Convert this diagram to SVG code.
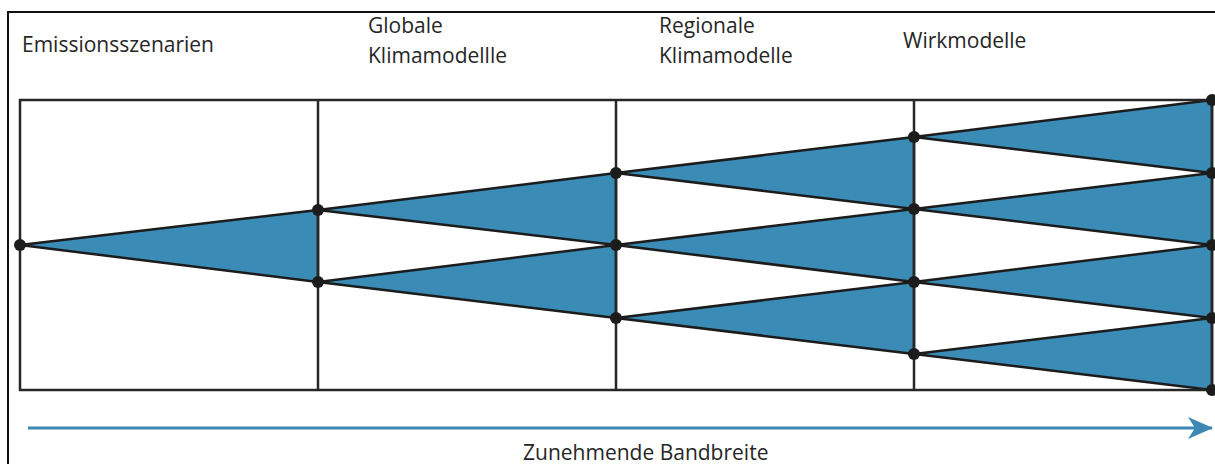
<svg xmlns="http://www.w3.org/2000/svg" width="1215" height="464" viewBox="0 0 1215 464">
<style>
.lbl{font-family:"Open Sans","Noto Sans",sans-serif;font-size:21px;fill:#262626}
.tri{fill:#3a8bb6;stroke:#1c1c1c;stroke-width:2.5;stroke-linejoin:round}
.grid{fill:none;stroke:#262626;stroke-width:2.5}
.dot{fill:#1c1c1c}
</style>
<defs>
<marker id="ah" markerWidth="26" markerHeight="24" refX="24" refY="11" orient="auto" markerUnits="userSpaceOnUse">
<path d="M0,0 L25,11 L0,22 L7,11 Z" fill="#3d88b3"/>
</marker>
</defs>
<rect width="1215" height="464" fill="#ffffff"/>
<rect x="8" y="12" width="1220" height="470" fill="none" stroke="#111" stroke-width="2"/>
<g id="labels">
<text class="lbl" x="22" y="52">Emissionsszenarien</text>
<text class="lbl" x="368" y="33">Globale</text>
<text class="lbl" x="368" y="63">Klimamodellle</text>
<text class="lbl" x="659" y="33">Regionale</text>
<text class="lbl" x="659" y="63">Klimamodelle</text>
<text class="lbl" x="903" y="48">Wirkmodelle</text>
</g>
<g id="triangles">
<polygon class="tri" points="20,245 318,210 318,282"/>
<polygon class="tri" points="318,210 616,173 616,245"/>
<polygon class="tri" points="318,282 616,245 616,318"/>
<polygon class="tri" points="616,173 914,137 914,209"/>
<polygon class="tri" points="616,245 914,209 914,282"/>
<polygon class="tri" points="616,318 914,282 914,354"/>
<polygon class="tri" points="914,137 1212,100 1212,173"/>
<polygon class="tri" points="914,209 1212,173 1212,245"/>
<polygon class="tri" points="914,282 1212,245 1212,318"/>
<polygon class="tri" points="914,354 1212,318 1212,390"/>
</g>
<g id="grid">
<rect class="grid" x="20" y="100" width="1192" height="290"/>
<line class="grid" x1="318" y1="100" x2="318" y2="390"/>
<line class="grid" x1="616" y1="100" x2="616" y2="390"/>
<line class="grid" x1="914" y1="100" x2="914" y2="390"/>
</g>
<g id="dots">
<circle class="dot" cx="20" cy="245" r="6"/>
<circle class="dot" cx="318" cy="210" r="6"/>
<circle class="dot" cx="318" cy="282" r="6"/>
<circle class="dot" cx="616" cy="173" r="6"/>
<circle class="dot" cx="616" cy="245" r="6"/>
<circle class="dot" cx="616" cy="318" r="6"/>
<circle class="dot" cx="914" cy="137" r="6"/>
<circle class="dot" cx="914" cy="209" r="6"/>
<circle class="dot" cx="914" cy="282" r="6"/>
<circle class="dot" cx="914" cy="354" r="6"/>
<circle class="dot" cx="1212" cy="100" r="6"/>
<circle class="dot" cx="1212" cy="173" r="6"/>
<circle class="dot" cx="1212" cy="245" r="6"/>
<circle class="dot" cx="1212" cy="318" r="6"/>
<circle class="dot" cx="1212" cy="390" r="6"/>
</g>
<g id="connectors">
<line x1="28" y1="428" x2="1212" y2="428" stroke="#3d88b3" stroke-width="3" marker-end="url(#ah)"/>
</g>
<text class="lbl" x="523" y="460">Zunehmende Bandbreite</text>
</svg>
